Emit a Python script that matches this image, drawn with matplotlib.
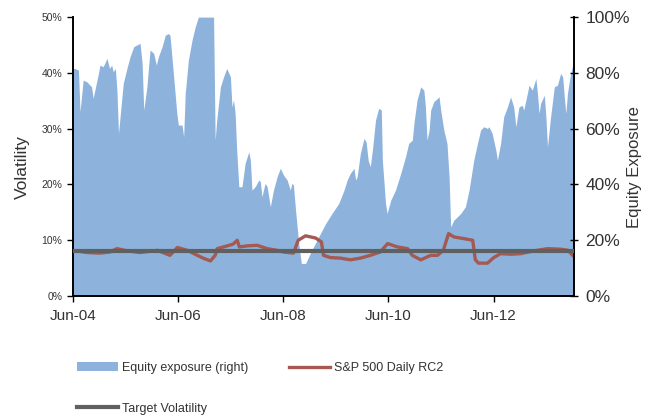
import pandas as pd
import numpy as np
import matplotlib
matplotlib.use("Agg")
import matplotlib.pyplot as plt
import matplotlib.dates as mdates
from matplotlib.ticker import PercentFormatter

plt.rcParams['font.family'] = ['Liberation Sans', 'DejaVu Sans']

# equity exposure (right axis, %), time as decimal years
exp_t = [2004.42, 2004.45, 2004.52, 2004.55, 2004.61, 2004.68, 2004.71, 2004.77, 2004.80,
         2004.90, 2004.93, 2004.99, 2005.06, 2005.11, 2005.15, 2005.18, 2005.22, 2005.25,
         2005.28, 2005.37, 2005.44, 2005.50, 2005.57, 2005.63, 2005.69, 2005.73, 2005.76,
         2005.82, 2005.88, 2005.95, 2006.00, 2006.04, 2006.11, 2006.17, 2006.23, 2006.26,
         2006.33, 2006.39, 2006.42, 2006.49, 2006.52, 2006.55, 2006.61, 2006.68, 2006.74,
         2006.80, 2007.09, 2007.12, 2007.15, 2007.22, 2007.28, 2007.34, 2007.41, 2007.44,
         2007.47, 2007.50, 2007.53, 2007.57, 2007.63, 2007.69, 2007.76, 2007.79, 2007.82,
         2007.88, 2007.95, 2007.98, 2008.01, 2008.07, 2008.11, 2008.14, 2008.17, 2008.23,
         2008.30, 2008.36, 2008.42, 2008.49, 2008.55, 2008.58, 2008.61, 2008.65, 2008.71,
         2008.76, 2008.84, 2008.90, 2008.96, 2009.09, 2009.22, 2009.34, 2009.47, 2009.57,
         2009.63, 2009.69, 2009.76, 2009.79, 2009.82, 2009.88, 2009.95, 2009.99, 2010.03,
         2010.07, 2010.11, 2010.17, 2010.23, 2010.28, 2010.30, 2010.36, 2010.39, 2010.46,
         2010.55, 2010.65, 2010.74, 2010.80, 2010.87, 2010.90, 2010.96, 2011.03, 2011.09,
         2011.12, 2011.15, 2011.19, 2011.22, 2011.28, 2011.38, 2011.41, 2011.47, 2011.53,
         2011.57, 2011.60, 2011.66, 2011.79, 2011.88, 2011.95, 2012.04, 2012.11, 2012.17,
         2012.23, 2012.30, 2012.33, 2012.39, 2012.46, 2012.49, 2012.55, 2012.61, 2012.68,
         2012.74, 2012.80, 2012.84, 2012.90, 2012.96, 2012.99, 2013.03, 2013.09, 2013.15,
         2013.22, 2013.25, 2013.28, 2013.31, 2013.38, 2013.41, 2013.44, 2013.50, 2013.57,
         2013.63, 2013.69, 2013.73, 2013.76, 2013.79, 2013.82, 2013.88, 2013.92, 2013.94]
exposure = [81.6, 81.6, 81.0, 66.1, 77.4, 76.8, 76.2, 75.0, 70.9,
            79.8, 82.8, 82.2, 85.2, 81.6, 82.8, 80.4, 81.6, 73.8,
            58.3, 76.2, 81.6, 85.8, 89.4, 90.0, 90.6, 83.4, 66.7,
            75.0, 88.2, 87.0, 82.8, 85.8, 89.4, 93.5, 94.1, 93.5,
            78.6, 65.5, 61.3, 61.3, 57.1, 72.6, 84.6, 91.8, 96.5,
            100, 100, 55.9, 63.1, 75.0, 78.6, 81.6, 78.6, 67.8,
            70.3, 65.5, 52.3, 39.2, 39.2, 47.6, 51.7, 48.7, 38.0,
            39.2, 41.6, 41.0, 35.6, 40.4, 39.2, 35.6, 32.0, 38.0,
            42.8, 45.8, 43.4, 41.6, 38.0, 40.4, 39.8, 30.8, 18.9,
            11.7, 11.7, 14.1, 16.5, 21.3, 26.0, 29.6, 33.2, 38.0,
            41.6, 44.0, 45.8, 41.6, 42.8, 51.1, 56.5, 55.3, 48.7,
            46.4, 52.3, 63.1, 67.3, 66.7, 48.7, 33.2, 29.6, 34.4,
            38.0, 44.0, 49.9, 54.7, 55.9, 61.9, 70.3, 75.0, 73.8,
            67.8, 55.9, 59.5, 66.7, 69.7, 71.4, 66.7, 59.5, 54.7,
            42.8, 24.8, 27.2, 29.6, 32.0, 38.0, 48.7, 54.7, 59.5,
            60.7, 60.1, 60.7, 58.3, 52.3, 48.7, 54.7, 64.3, 67.8,
            71.4, 67.8, 60.7, 67.8, 68.4, 66.7, 70.3, 75.6, 73.8,
            78.0, 72.6, 65.5, 69.1, 72.0, 64.3, 53.5, 64.3, 75.0,
            75.6, 79.8, 78.6, 71.4, 65.5, 72.6, 79.8, 82.8, 82.0]

# S&P 500 Daily RC2 realised volatility (left axis, %)
rc2_t = [2004.42, 2004.68, 2004.93, 2005.12, 2005.25, 2005.45, 2005.69, 2006.02, 2006.26,
         2006.40, 2006.59, 2006.78, 2006.89, 2007.03, 2007.12, 2007.16, 2007.35, 2007.46,
         2007.54, 2007.58, 2007.73, 2007.92, 2008.11, 2008.30, 2008.42, 2008.61, 2008.70,
         2008.84, 2009.03, 2009.14, 2009.18, 2009.31, 2009.50, 2009.69, 2009.88, 2010.07,
         2010.26, 2010.40, 2010.59, 2010.78, 2010.87, 2011.03, 2011.22, 2011.35, 2011.46,
         2011.56, 2011.66, 2011.85, 2012.02, 2012.07, 2012.13, 2012.30, 2012.42, 2012.55,
         2012.74, 2012.93, 2013.18, 2013.44, 2013.69, 2013.83, 2013.92]
rc2_vol = [8.2, 7.8, 7.7, 7.9, 8.5, 8.1, 7.8, 8.2, 7.3,
           8.7, 8.2, 7.3, 6.8, 6.3, 7.3, 8.5, 9.0, 9.3,
           10.0, 8.8, 9.0, 9.1, 8.5, 8.2, 7.9, 7.7, 10.0,
           10.8, 10.4, 9.7, 7.3, 6.9, 6.8, 6.5, 6.8, 7.3,
           7.9, 9.4, 8.8, 8.5, 7.3, 6.5, 7.3, 7.3, 8.2,
           11.2, 10.6, 10.3, 10.0, 6.5, 5.9, 5.9, 6.9, 7.6,
           7.5, 7.6, 8.1, 8.5, 8.4, 8.2, 7.3]

target_vol = 8.0


def to_date(t):
    y = int(t)
    return pd.Timestamp(y, 1, 1) + pd.Timedelta(days=(t - y) * 365.25)


exp_dates = [to_date(t) for t in exp_t]
rc2_dates = [to_date(t) for t in rc2_t]

fig = plt.figure(figsize=(6.47, 4.17), dpi=100)
ax = fig.add_axes([0.1128, 0.29, 0.7744, 0.669])
ax2 = ax.twinx()

area = ax2.fill_between(exp_dates, 0, exposure, color='#8DB3DD', lw=0,
                        label='Equity exposure (right)')
rc2_line, = ax.plot(rc2_dates, rc2_vol, color='#A45A52', lw=2.4,
                    label='S&P 500 Daily RC2', zorder=2)
target_line = ax.axhline(target_vol, color='#606060', lw=3,
                         label='Target Volatility', zorder=3)

# lines drawn above the area
ax.set_zorder(ax2.get_zorder() + 1)
ax.patch.set_visible(False)

xmin, xmax = pd.Timestamp('2004-06-01'), to_date(2013.945)
ax.set_xlim(xmin, xmax)
ax.set_ylim(0, 50)
ax2.set_ylim(0, 100)

ax.set_xticks([pd.Timestamp(f'{y}-06-01') for y in range(2004, 2014, 2)])
ax.xaxis.set_major_formatter(mdates.DateFormatter('Jun-%y'))
ax.set_yticks(np.arange(0, 51, 10))
ax.yaxis.set_major_formatter(PercentFormatter(decimals=0))
ax2.set_yticks(np.arange(0, 101, 20))
ax2.yaxis.set_major_formatter(PercentFormatter(decimals=0))

ax.tick_params(axis='x', labelsize=11, length=4, width=1, colors='black',
               labelcolor='#333333', pad=5)
ax.tick_params(axis='y', labelsize=7.5, length=4, width=1, labelcolor='#333333')
ax2.tick_params(axis='y', labelsize=12.5, length=6, width=1, direction='inout',
                labelcolor='#333333', pad=5)

for a in (ax, ax2):
    a.spines['top'].set_visible(False)
    for s in ('left', 'right', 'bottom'):
        a.spines[s].set_linewidth(1.2)

ax.set_ylabel('Volatility', fontsize=12.5, color='#333333')
ax2.set_ylabel('Equity Exposure', fontsize=12, color='#333333')
ax.yaxis.set_label_coords(-0.086, 0.462)
ax2.yaxis.set_label_coords(1.106, 0.462)

# column-major fill: first column Equity / Target, second column RC2
fig.legend([area, target_line, rc2_line],
           ['Equity exposure (right)', 'Target Volatility', 'S&P 500 Daily RC2'],
           loc='upper left', bbox_to_anchor=(0.101, 0.159),
           ncol=2, frameon=False, fontsize=9, handlelength=3.3, handletextpad=0.3,
           columnspacing=3.3, labelspacing=2.3, labelcolor='#333333')

fig.savefig('out.png', dpi=100)
